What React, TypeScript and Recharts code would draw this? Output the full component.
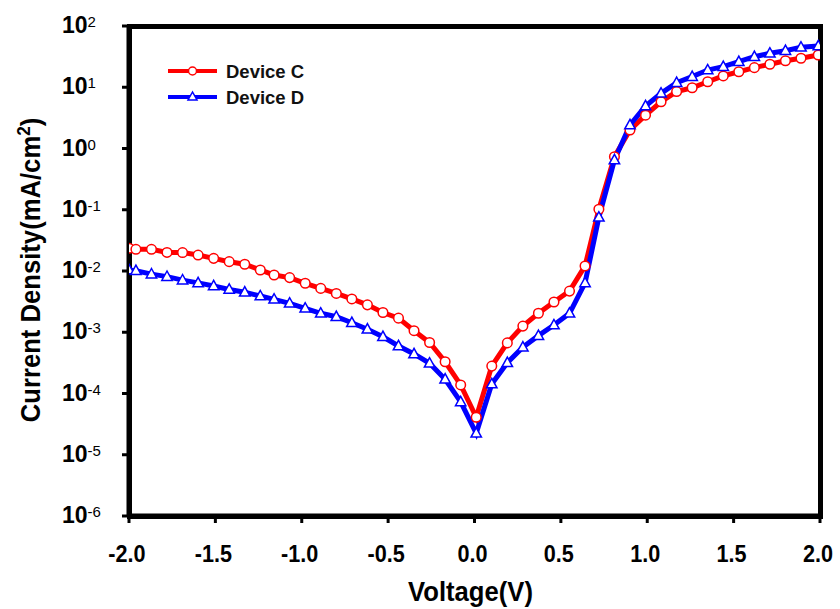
import React from 'react';
import { LineChart, Line, XAxis, YAxis, Legend } from 'recharts';

const voltage = [-2.0, -1.96, -1.87, -1.78, -1.69, -1.6, -1.51, -1.42, -1.33, -1.24, -1.16, -1.07, -0.98, -0.89, -0.8, -0.71, -0.62, -0.53, -0.44, -0.35, -0.26, -0.17, -0.08, 0.01, 0.1, 0.19, 0.28, 0.37, 0.46, 0.55, 0.64, 0.72, 0.81, 0.9, 0.99, 1.08, 1.17, 1.26, 1.35, 1.44, 1.53, 1.62, 1.71, 1.8, 1.89, 1.99];

const deviceC = [0.0235, 0.0226, 0.0226, 0.0201, 0.02, 0.0182, 0.0161, 0.0142, 0.0129, 0.0104, 0.0086, 0.0078, 0.0063, 0.0052, 0.0043, 0.0035, 0.0028, 0.0021, 0.0017, 0.00106, 0.00068, 0.00033, 0.000138, 0.000041, 0.00028, 0.00067, 0.00126, 0.00204, 0.00312, 0.0047, 0.0121, 0.102, 0.735, 2.0, 3.5, 5.8, 8.5, 9.8, 12.3, 15.3, 17.9, 20.9, 23.7, 27.1, 29.7, 33.6];

const deviceD = [0.0104, 0.0101, 0.0089, 0.0081, 0.0071, 0.0064, 0.0057, 0.005, 0.0045, 0.0039, 0.00345, 0.00297, 0.00246, 0.00204, 0.00179, 0.00143, 0.00112, 0.000845, 0.000597, 0.000442, 0.000311, 0.000171, 0.000073, 0.0000224, 0.000143, 0.000318, 0.00057, 0.00088, 0.00131, 0.00204, 0.0064, 0.0753, 0.649, 2.42, 4.94, 7.96, 11.9, 14.9, 19.1, 21.7, 26.1, 31.5, 35.8, 39.5, 44.9, 47.1];

const xTicks = [-2, -1.5, -1, -0.5, 0, 0.5, 1, 1.5, 2];
const yTicks = [1e-6, 1e-5, 1e-4, 1e-3, 1e-2, 1e-1, 1, 10, 100];
const seriesNames = ['Device C', 'Device D'];
const xTitle = 'Voltage(V)';
const yTitle = 'Current Density(mA/cm';

const data = voltage.map((v, i) => ({ v, c: deviceC[i], d: deviceD[i] }));

const FONT = '"Liberation Sans", Arial, Helvetica, sans-serif';
const RED = '#ff0000';
const BLUE = '#0000ff';

const CHART_W = 840;
const CHART_H = 609;
const MARGIN = { top: 26, right: 20, bottom: 0, left: 0 };
const Y_AXIS_W = 129;
const X_AXIS_H = 93;
const FRAME_W = 5;

const XTick = (props: any) => {
  const { x, y, payload } = props;
  return (
    <text x={x - 2} y={y} dy={37} textAnchor="middle" fontFamily={FONT} fontWeight="bold" fontSize={23} fill="#000" transform={`translate(${(x - 2) * 0.06}, 0) scale(0.94, 1)`}>
      {payload.value.toFixed(1)}
    </text>
  );
};

const YTick = (props: any) => {
  const { x, y, payload } = props;
  const exp = Math.round(Math.log10(payload.value));
  return (
    <text x={x - 58} y={y + 7} textAnchor="start" fontFamily={FONT} fontWeight="bold" fontSize={23} fill="#000">
      10
      <tspan dy={-6} fontSize={15} fontWeight="normal">{String(exp)}</tspan>
    </text>
  );
};

const XTitle = (props: any) => {
  const vb = props.viewBox || { x: 129, y: 516, width: 691, height: 93 };
  const cx = vb.x + vb.width / 2 - 4;
  const by = vb.y + vb.height - 8;
  return (
    <text transform={`translate(${cx}, ${by}) scale(0.95, 1)`} x={0} y={0} textAnchor="middle" fontFamily={FONT} fontWeight="bold" fontSize={27} fill="#000">
      {xTitle}
    </text>
  );
};

const YTitle = (props: any) => {
  const vb = props.viewBox || { x: 0, y: 26, width: 129, height: 490 };
  const cx = vb.x + 40;
  const cy = vb.y + vb.height / 2 - 1;
  return (
    <text transform={`translate(${cx}, ${cy}) rotate(-90) scale(0.95, 1)`} x={0} y={0} textAnchor="middle" fontFamily={FONT} fontWeight="bold" fontSize={27} fill="#000">
      {yTitle}
      <tspan dy={-10} fontSize={18}>2</tspan>
      <tspan dy={10}>)</tspan>
    </text>
  );
};

const TriangleDot = (props: any) => {
  const { cx, cy, index } = props;
  if (cx == null || cy == null) return <g key={`t-${index}`} />;
  return (
    <polygon
      key={`t-${index}`}
      points={`${cx},${cy - 5.6} ${cx - 5.2},${cy + 3.8} ${cx + 5.2},${cy + 3.8}`}
      fill="#fff"
      stroke={BLUE}
      strokeWidth={1.5}
    />
  );
};

const LegendContent = () => (
  <svg width={160} height={56}>
    <line x1={0} y1={11} x2={49} y2={11} stroke={RED} strokeWidth={4} />
    <circle cx={24.5} cy={11} r={4} fill="#fff" stroke={RED} strokeWidth={1.5} />
    <text x={58} y={17.5} fontFamily={FONT} fontWeight="bold" fontSize={18.5} fill="#111">{seriesNames[0]}</text>
    <line x1={0} y1={37} x2={49} y2={37} stroke={BLUE} strokeWidth={4} />
    <polygon points={`24.5,32 20,40 29,40`} fill="#fff" stroke={BLUE} strokeWidth={1.5} />
    <text x={58} y={43.5} fontFamily={FONT} fontWeight="bold" fontSize={18.5} fill="#111">{seriesNames[1]}</text>
  </svg>
);

export default function App() {
  const plotLeft = MARGIN.left + Y_AXIS_W;
  const plotTop = MARGIN.top;
  const plotW = CHART_W - MARGIN.left - MARGIN.right - Y_AXIS_W;
  const plotH = CHART_H - MARGIN.top - MARGIN.bottom - X_AXIS_H;
  return (
    <div style={{ position: 'absolute', left: 0, top: 0, width: CHART_W, height: CHART_H, background: '#fff' }}>
      <div
        style={{
          position: 'absolute',
          left: plotLeft - FRAME_W / 2,
          top: plotTop - FRAME_W / 2,
          width: plotW + FRAME_W,
          height: plotH + FRAME_W,
          border: `${FRAME_W}px solid #000`,
          boxSizing: 'border-box',
        }}
      />
      <div style={{ position: 'relative' }}>
        <LineChart width={CHART_W} height={CHART_H} data={data} margin={MARGIN}>
          <XAxis
            dataKey="v"
            type="number"
            domain={[-2, 2]}
            ticks={xTicks}
            height={X_AXIS_H}
            allowDataOverflow
            axisLine={{ stroke: '#000', strokeWidth: 5 }}
            tickLine={{ stroke: '#000', strokeWidth: 3 }}
            tickSize={7}
            tick={<XTick />}
            label={<XTitle />}
          />
          <YAxis
            scale="log"
            domain={[1e-6, 100]}
            ticks={yTicks}
            width={Y_AXIS_W}
            allowDataOverflow
            axisLine={{ stroke: '#000', strokeWidth: 5 }}
            tickLine={{ stroke: '#000', strokeWidth: 3 }}
            tickSize={7}
            tick={<YTick />}
            label={<YTitle />}
          />
          <Legend
            layout="vertical"
            align="center"
            verticalAlign="middle"
            content={<LegendContent />}
            wrapperStyle={{ left: 168, top: 60, width: 160, height: 56 }}
          />
          <Line
            type="linear"
            dataKey="c"
            name={seriesNames[0]}
            stroke={RED}
            strokeWidth={5}
            dot={{ r: 4.8, fill: '#fff', stroke: RED, strokeWidth: 1.5 }}
            isAnimationActive={false}
          />
          <Line
            type="linear"
            dataKey="d"
            name={seriesNames[1]}
            stroke={BLUE}
            strokeWidth={5}
            dot={<TriangleDot />}
            isAnimationActive={false}
          />
        </LineChart>
      </div>
    </div>
  );
}
